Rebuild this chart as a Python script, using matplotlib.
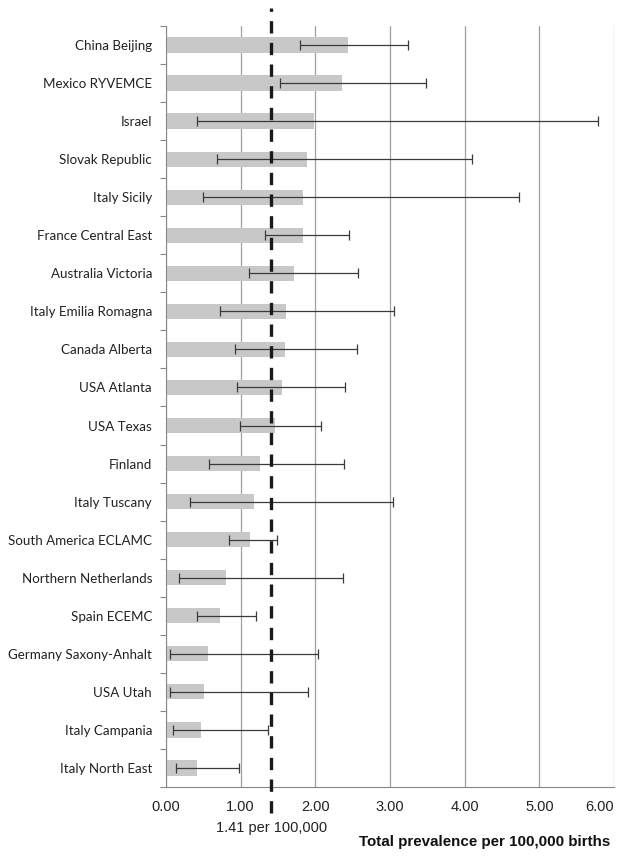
import numpy as np
import matplotlib
matplotlib.use("Agg")
import matplotlib.pyplot as plt

# registries, top to bottom as in the figure
registries = ["China Beijing", "Mexico RYVEMCE", "Israel", "Slovak Republic", "Italy Sicily",
              "France Central East", "Australia Victoria", "Italy Emilia Romagna", "Canada Alberta",
              "USA Atlanta", "USA Texas", "Finland", "Italy Tuscany", "South America ECLAMC",
              "Northern Netherlands", "Spain ECEMC", "Germany Saxony-Anhalt", "USA Utah",
              "Italy Campania", "Italy North East"]
prevalence = [2.44, 2.36, 1.98, 1.89, 1.84, 1.84, 1.72, 1.61, 1.60, 1.55,
              1.46, 1.26, 1.18, 1.13, 0.80, 0.73, 0.56, 0.51, 0.47, 0.42]
ci_low = [1.79, 1.53, 0.41, 0.68, 0.50, 1.33, 1.11, 0.73, 0.93, 0.95,
          0.99, 0.58, 0.32, 0.85, 0.17, 0.41, 0.05, 0.06, 0.09, 0.13]
ci_high = [3.24, 3.48, 5.79, 4.10, 4.73, 2.45, 2.57, 3.06, 2.56, 2.40,
           2.08, 2.39, 3.04, 1.49, 2.37, 1.20, 2.04, 1.90, 1.36, 0.98]
overall = 1.41
xticks = [0, 1, 2, 3, 4, 5, 6]

prev = np.array(prevalence)
xerr = [prev - np.array(ci_low), np.array(ci_high) - prev]
y = np.arange(len(registries))[::-1]

fig = plt.figure(figsize=(6.24, 8.59), dpi=100)
ax = fig.add_axes([0.266, 0.0838, 0.718, 0.886])

ax.barh(y, prev, height=0.4, color="#c8c8c8", zorder=2)
ax.errorbar(prev, y, xerr=xerr, fmt="none", ecolor="#3a3a3a", elinewidth=0.9,
            capsize=3.5, capthick=0.9, zorder=3)

# overall prevalence line, runs past the axes at both ends
ax.axvline(overall, ymin=-0.034, ymax=1.024, color="#1a1a1a", lw=2.4,
           dashes=(3.7, 2.8), clip_on=False, zorder=4)

ax.set_xlim(0, 6)
ax.set_ylim(-0.5, len(registries) - 0.5)
ax.set_xticks(xticks)
ax.set_xticklabels([f"{v:.2f}" for v in xticks], fontfamily="Liberation Sans", fontsize=10.5,
                   color="#222222")
ax.get_xticklabels()[-1].set_horizontalalignment("right")
ax.tick_params(axis="x", length=0, pad=9)

ax.set_yticks(y)
ax.set_yticklabels(registries, fontfamily="Lato", fontsize=9.6, color="#222222")
ax.tick_params(axis="y", length=0, pad=10)
ax.set_yticks(np.arange(-0.5, len(registries), 1), minor=True)
ax.tick_params(axis="y", which="minor", length=4, color="#888888", width=0.8)

ax.grid(axis="x", color="#a0a0a0", lw=0.9, zorder=0)
for side in ["top", "right"]:
    ax.spines[side].set_visible(False)
ax.spines["left"].set_color("#888888")
ax.spines["bottom"].set_color("#888888")

ax.text(overall, -0.054, "1.41 per 100,000", transform=ax.get_xaxis_transform(),
        ha="center", va="center", fontfamily="Liberation Sans", fontsize=10.5, color="#222222")
fig.text(610 / 624, 1 - 842 / 859, "Total prevalence per 100,000 births", ha="right", va="center",
         fontfamily="Liberation Sans", fontweight="bold", fontsize=10.9, color="#111111")

fig.savefig("out.png", dpi=100)
